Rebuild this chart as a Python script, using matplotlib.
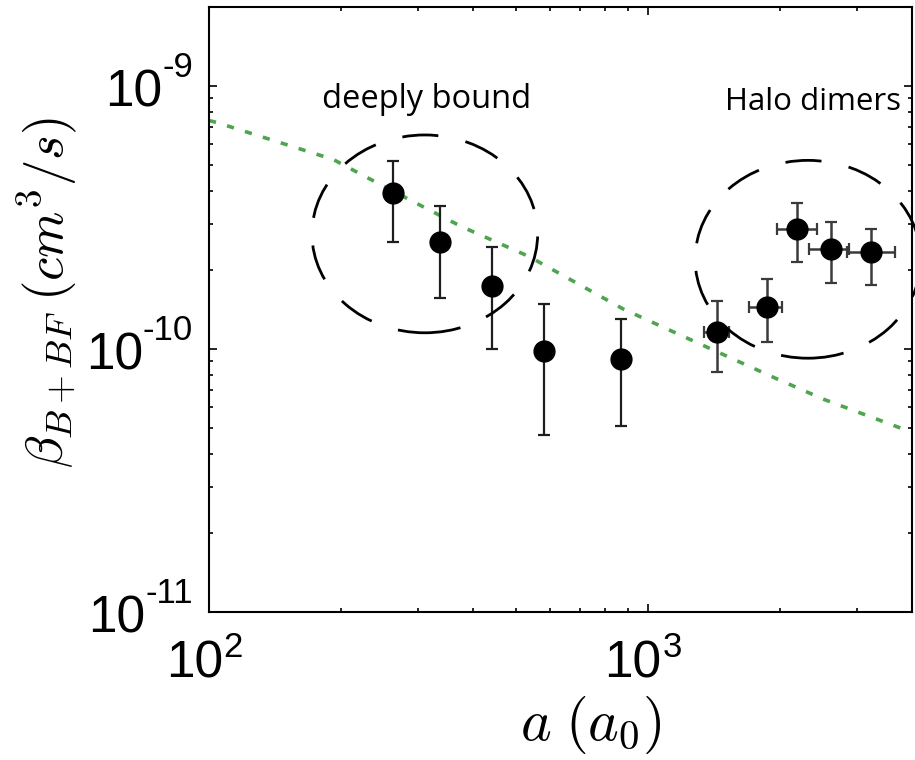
import matplotlib
matplotlib.use("Agg")
import matplotlib.pyplot as plt
from matplotlib.patches import Ellipse
from matplotlib.ticker import LogLocator, NullFormatter

plt.rcParams["font.family"] = ["Liberation Sans", "DejaVu Sans"]

# deeply bound dimers (no horizontal error)
deep_a = [262, 336, 441, 580, 869]
deep_beta = [3.94e-10, 2.55e-10, 1.73e-10, 9.8e-11, 9.14e-11]
deep_hi = [5.18e-10, 3.49e-10, 2.45e-10, 1.48e-10, 1.30e-10]
deep_lo = [2.55e-10, 1.57e-10, 9.98e-11, 4.73e-11, 5.08e-11]

# halo dimers
halo_a = [1435, 1866, 2183, 2612, 3228]
halo_a_lo = [1340, 1698, 1967, 2328, 2844]
halo_a_hi = [1528, 2018, 2427, 2873, 3656]
halo_beta = [1.16e-10, 1.44e-10, 2.85e-10, 2.41e-10, 2.33e-10]
halo_hi = [1.52e-10, 1.84e-10, 3.58e-10, 3.03e-10, 2.85e-10]
halo_lo = [8.15e-11, 1.06e-10, 2.14e-10, 1.79e-10, 1.76e-10]

# theory curve (green dotted)
theory_a = [100, 104, 192, 250, 375, 536, 879, 1245, 1936, 2518, 3837, 4000]
theory_beta = [7.4e-10, 7.28e-10, 5.26e-10, 4.16e-10, 2.93e-10, 2.25e-10,
               1.42e-10, 1.09e-10, 7.80e-11, 6.44e-11, 4.95e-11, 4.85e-11]

# tick labels: value, exponent text
xticks = [100, 1000]
xtick_exp = ["2", "3"]
yticks = [1e-11, 1e-10, 1e-9]
ytick_exp = ["-11", "-10", "-9"]

fig = plt.figure(figsize=(9.15, 7.6), dpi=100)
ax = fig.add_axes([209 / 915, 148 / 760, 703 / 915, 605 / 760])
ax.set_xscale("log")
ax.set_yscale("log")
ax.set_xlim(100, 4000)
ax.set_ylim(1e-11, 2e-9)

ax.plot(theory_a, theory_beta, color="#4fa54f", lw=2.6,
        ls=(0, (2.0, 3.2)), zorder=2)


def err(vals, lo, hi):
    return [[v - l for v, l in zip(vals, lo)], [h - v for v, h in zip(vals, hi)]]


ax.errorbar(deep_a, deep_beta, yerr=err(deep_beta, deep_lo, deep_hi), fmt="o",
            color="black", ecolor="#1e1e1e", ms=15, elinewidth=1.6,
            capsize=4.5, capthick=1.6, zorder=3)
ax.errorbar(halo_a, halo_beta, yerr=err(halo_beta, halo_lo, halo_hi),
            xerr=err(halo_a, halo_a_lo, halo_a_hi), fmt="o",
            color="black", ecolor="#3a3a3a", ms=15, elinewidth=1.8,
            capsize=4.5, capthick=1.6, zorder=3)

# dashed circles around the two groups
for cx, cy in [(0.307, 0.625), (0.852, 0.583)]:
    ax.add_patch(Ellipse((cx, cy), 0.321, 0.327, transform=ax.transAxes,
                         fill=False, ec="black", lw=2.0,
                         ls=(0, (13, 10)), clip_on=False, zorder=4))

ax.text(0.161, 0.833, "deeply bound", transform=ax.transAxes,
        fontsize=23.5, family="Open Sans", va="baseline", ha="left")
ax.text(0.734, 0.830, "Halo dimers", transform=ax.transAxes,
        fontsize=22.5, family="Open Sans", va="baseline", ha="left")

ax.set_xticks(xticks)
ax.set_yticks(yticks)
ax.xaxis.set_minor_locator(LogLocator(base=10, subs=range(2, 10), numticks=10))
ax.yaxis.set_minor_locator(LogLocator(base=10, subs=range(2, 10), numticks=10))
ax.xaxis.set_minor_formatter(NullFormatter())
ax.yaxis.set_minor_formatter(NullFormatter())

ax.tick_params(which="both", direction="in", top=True, right=True,
               width=1.2, labelbottom=False, labelleft=False)
ax.tick_params(which="major", length=6)
ax.tick_params(which="minor", length=3)
for s in ax.spines.values():
    s.set_linewidth(1.5)

# MATLAB-style "10^n" labels with a raised exponent
ytr = ax.get_yaxis_transform()
for val, ex in zip(yticks, ytick_exp):
    e = ax.annotate(ex, xy=(0, val), xycoords=ytr, xytext=(-11.5, 6.5),
                    textcoords="offset points", ha="right", va="baseline",
                    fontsize=25)
    ax.annotate("10", xy=(0, val), xycoords=(e, ytr), xytext=(0, -14.5),
                textcoords="offset points", ha="right", va="baseline",
                fontsize=37)

xtr = ax.get_xaxis_transform()
for val, ex in zip(xticks, xtick_exp):
    b = ax.annotate("10", xy=(val, 0), xycoords=xtr, xytext=(10, -47.5),
                    textcoords="offset points", ha="right", va="baseline",
                    fontsize=37)
    ax.annotate(ex, xy=(1, 0), xycoords=(b, xtr), xytext=(0.5, -32.4),
                textcoords="offset points", ha="left", va="baseline",
                fontsize=25)

ax.set_xlabel(r"$a\;(a_0)$", fontsize=42, math_fontfamily="cm")
ax.xaxis.set_label_coords(0.543, -0.135)
ax.set_ylabel(r"$\beta_{B+BF}\;(cm^3/s)$", fontsize=38, math_fontfamily="cm")
ax.yaxis.set_label_coords(-0.185, 0.527)

fig.savefig("out.png", dpi=100)
